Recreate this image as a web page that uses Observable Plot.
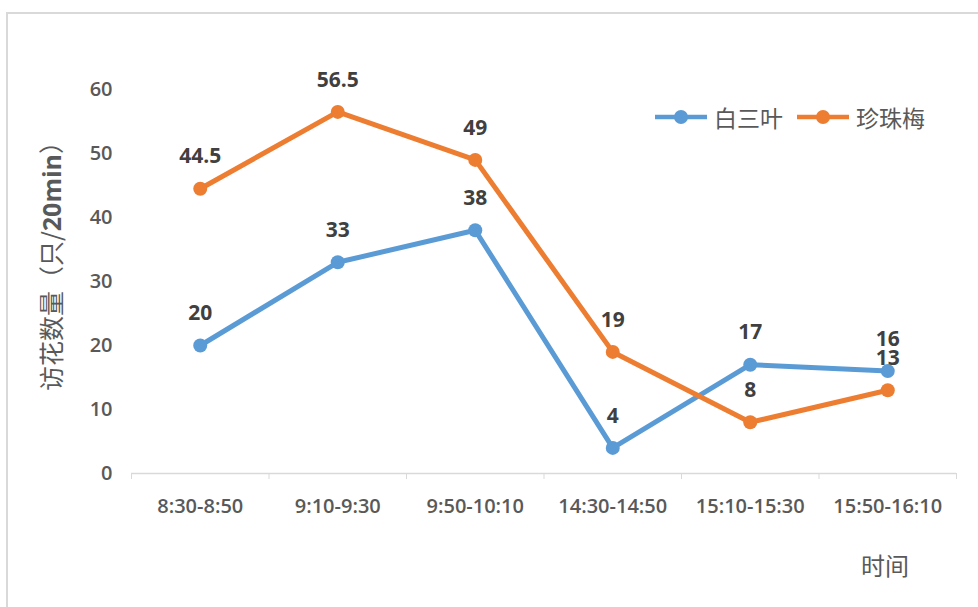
<!DOCTYPE html>
<html><head><meta charset="utf-8">
<script src="https://cdn.jsdelivr.net/npm/d3@7"></script>
<script src="https://cdn.jsdelivr.net/npm/@observablehq/plot@0.6"></script>
<style>
html,body{margin:0;padding:0;background:#fff;overflow:hidden;width:978px;height:607px;}
#frame{position:absolute;left:6px;top:12px;width:1000px;height:700px;border:2px solid #d9d9d9;box-sizing:border-box;}
#chart{position:absolute;left:0;top:0;}
#ytitle{position:absolute;left:50px;top:260px;transform:translate(-50%,-50%) rotate(-90deg);white-space:nowrap;font-family:"Noto Sans CJK SC",sans-serif;font-size:25px;color:#595959;}
#xtitle{position:absolute;left:861px;top:547px;font-family:"Noto Sans CJK SC",sans-serif;font-size:24px;color:#595959;}
#legend{position:absolute;left:653px;top:100px;display:flex;align-items:center;font-family:"Noto Sans CJK SC",sans-serif;font-size:23px;color:#595959;}
#legend .item{display:flex;align-items:center;margin-right:12px;}
#legend svg{margin-right:5px;}
</style></head>
<body>
<div id="frame"></div>
<div id="chart"></div>
<div id="ytitle">访花数量（只/<b style="font-family:'Open Sans'">20min</b>）</div>
<div id="xtitle">时间</div>
<div id="legend"></div>
<script>
const categories = ["8:30-8:50","9:10-9:30","9:50-10:10","14:30-14:50","15:10-15:30","15:50-16:10"];
const seriesNames = ["白三叶","珍珠梅"];
const baisanye = [20,33,38,4,17,16];
const zhenzhumei = [44.5,56.5,49,19,8,13];
const colors = ["#5B9BD5","#ED7D31"];
const yTicks = [0,10,20,30,40,50,60];

const data = [];
[baisanye, zhenzhumei].forEach((arr, s) => arr.forEach((v, i) => data.push({series: seriesNames[s], i, value: v})));
const idx = categories.map((_, i) => i);
const edges = d3.range(categories.length + 1).map(i => i - 0.5);

const chart = Plot.plot({
  width: 978, height: 607,
  marginLeft: 131, marginRight: 22, marginTop: 89, marginBottom: 134,
  style: {fontFamily: "'Open Sans', sans-serif", fontSize: "20px", background: "transparent"},
  x: {type: "linear", domain: [-0.5, categories.length - 0.5]},
  y: {domain: [0, 60]},
  color: {domain: seriesNames, range: colors},
  marks: [
    Plot.ruleY([0], {stroke: "#d9d9d9", strokeWidth: 1.5}),
    Plot.axisX({ticks: edges, tickSize: 6, tickFormat: () => "", stroke: "#d9d9d9", label: null}),
    Plot.axisX({ticks: idx, tickSize: 0, tickPadding: 25, tickFormat: i => categories[i], label: null,
      fill: "#595959"}),
    Plot.axisY({ticks: yTicks, tickSize: 0, tickPadding: 19, label: null,
      fill: "#595959"}),
    Plot.line(data, {x: "i", y: "value", z: "series", stroke: "series", strokeWidth: 5, curve: "linear"}),
    Plot.dot(data, {x: "i", y: "value", fill: "series", r: 7, stroke: "none"}),
    Plot.text(data, {x: "i", y: "value", text: d => String(d.value), dy: -32,
      fontSize: 21, fontWeight: "bold", fill: "#404040"})
  ]
});
d3.select(chart).selectAll('g[aria-label$="tick label"]')
  .style("font-size", "20px").style("font-weight", "600")
  .selectAll("text").style("font-size", "20px").style("font-weight", "600");
document.getElementById("chart").appendChild(chart);

const legend = document.getElementById("legend");
seriesNames.forEach((name, s) => {
  const item = document.createElement("div");
  item.className = "item";
  item.innerHTML = `<svg width="56" height="18"><line x1="2" y1="9" x2="54" y2="9" stroke="${colors[s]}" stroke-width="4.5"/><circle cx="28" cy="9" r="7" fill="${colors[s]}"/></svg><span>${name}</span>`;
  legend.appendChild(item);
});
</script>
</body></html>
